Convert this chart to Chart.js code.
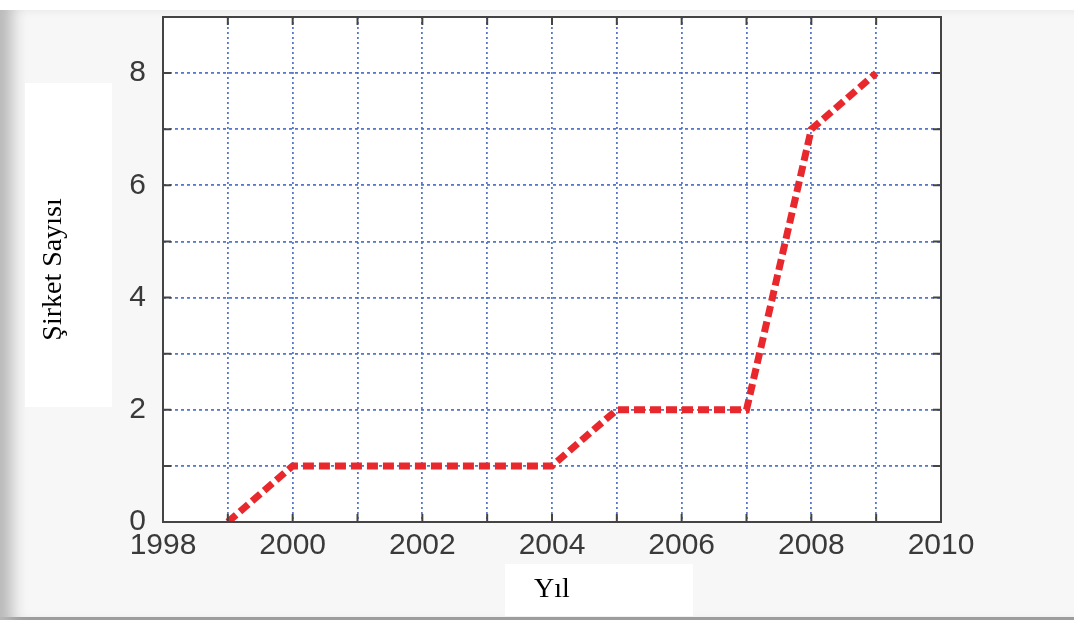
<!DOCTYPE html>
<html>
<head>
<meta charset="utf-8">
<script src="https://cdn.jsdelivr.net/npm/chart.js@4/dist/chart.umd.min.js"></script>
<style>
  html, body { margin: 0; padding: 0; width: 1074px; height: 624px; overflow: hidden; background: #ffffff; }
  #frame { position: absolute; left: 0; top: 10px; width: 1074px; height: 610px;
    background: #f7f7f7;
    box-shadow: inset 20px 0 16px -8px #b8b8b8, inset 0 -3px 0 #9a9a9a; }
  .box { position: absolute; background: #ffffff; }
  #wrap { position: absolute; left: 0; top: 0; width: 1074px; height: 624px; }
</style>
</head>
<body>
<div id="frame"></div>
<div class="box" style="left:25px;top:83px;width:87px;height:324px;"></div>
<div class="box" style="left:505px;top:564px;width:188px;height:52px;"></div>
<div id="wrap"><canvas id="c" width="1074" height="624"></canvas></div>
<script>
const years = [1999, 2000, 2001, 2002, 2003, 2004, 2005, 2006, 2007, 2008, 2009];
const companies = [0, 1, 1, 1, 1, 1, 2, 2, 2, 7, 8];
const xTickLabels = ['1998', '2000', '2002', '2004', '2006', '2008', '2010'];
const yTickLabels = ['0', '2', '4', '6', '8'];
const xTitle = 'Yıl';
const yTitle = 'Şirket Sayısı';

const PAD_LEFT = 25, PAD_BOTTOM = 18;

const framePlugin = {
  id: 'framePlugin',
  beforeDraw(chart) {
    const { ctx, chartArea: a } = chart;
    ctx.save();
    ctx.fillStyle = '#ffffff';
    ctx.fillRect(a.left, a.top, a.right - a.left, a.bottom - a.top);
    ctx.restore();
  },
  afterDraw(chart) {
    const { ctx, chartArea: a, scales } = chart;
    ctx.save();
    ctx.strokeStyle = '#444444';
    ctx.lineWidth = 2;
    ctx.strokeRect(a.left, a.top, a.right - a.left, a.bottom - a.top);
    const L = 8;
    scales.x.ticks.forEach(t => {
      const px = scales.x.getPixelForValue(t.value);
      ctx.beginPath();
      ctx.moveTo(px, a.bottom); ctx.lineTo(px, a.bottom - L);
      ctx.moveTo(px, a.top); ctx.lineTo(px, a.top + L);
      ctx.stroke();
    });
    scales.y.ticks.forEach(t => {
      const py = scales.y.getPixelForValue(t.value);
      ctx.beginPath();
      ctx.moveTo(a.left, py); ctx.lineTo(a.left + L, py);
      ctx.moveTo(a.right, py); ctx.lineTo(a.right - L, py);
      ctx.stroke();
    });
    ctx.restore();
  }
};

new Chart(document.getElementById('c'), {
  type: 'line',
  data: {
    datasets: [{
      data: years.map((y, i) => ({ x: y, y: companies[i] })),
      borderColor: '#e8282c',
      borderWidth: 7,
      borderDash: [11, 5],
      borderCapStyle: 'butt',
      pointRadius: 0,
      tension: 0,
      fill: false
    }]
  },
  options: {
    responsive: false,
    animation: false,
    devicePixelRatio: 1,
    layout: { padding: { left: PAD_LEFT, top: 17, right: 133, bottom: PAD_BOTTOM } },
    plugins: { legend: { display: false }, tooltip: { enabled: false } },
    scales: {
      x: {
        type: 'linear',
        min: 1998, max: 2010,
        afterFit(s) { s.height = 624 - 522 - PAD_BOTTOM; s.paddingLeft = 0; s.paddingRight = 0; },
        ticks: {
          stepSize: 1,
          autoSkip: false,
          maxRotation: 0,
          padding: 6,
          color: '#3a3a3a',
          font: { family: 'Liberation Sans, Arial, sans-serif', size: 30 },
          callback: v => xTickLabels.includes(String(v)) ? String(v) : ''
        },
        grid: {
          color: 'rgba(70,105,200,0.9)',
          lineWidth: 1.8,
          drawTicks: false
        },
        border: { display: false, dash: [2, 3] },
        title: {
          display: true,
          text: xTitle,
          color: '#000000',
          font: { family: 'Liberation Serif, Times New Roman, serif', size: 28 },
          padding: { top: 2, bottom: 0 }
        }
      },
      y: {
        min: 0, max: 9,
        afterFit(s) { s.width = 163 - PAD_LEFT; s.paddingTop = 0; s.paddingBottom = 0; },
        ticks: {
          stepSize: 1,
          autoSkip: false,
          padding: 17,
          color: '#3a3a3a',
          font: { family: 'Liberation Sans, Arial, sans-serif', size: 30 },
          callback: v => yTickLabels.includes(String(v)) ? String(v) : ''
        },
        grid: {
          color: 'rgba(70,105,200,0.9)',
          lineWidth: 1.8,
          drawTicks: false
        },
        border: { display: false, dash: [3, 3] },
        title: {
          display: true,
          text: yTitle,
          color: '#000000',
          font: { family: 'Liberation Serif, Times New Roman, serif', size: 28 },
          padding: { top: 12, bottom: 0 }
        }
      }
    }
  },
  plugins: [framePlugin]
});
</script>
</body>
</html>
